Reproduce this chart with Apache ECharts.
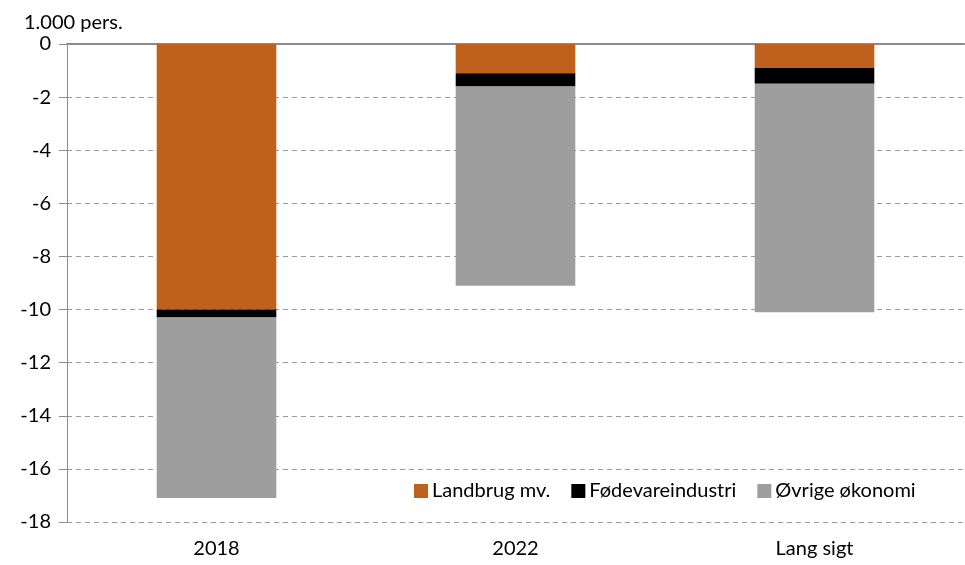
<!DOCTYPE html>
<html>
<head>
<meta charset="utf-8">
<title>Beskæftigelse</title>
<script src="https://cdn.jsdelivr.net/npm/echarts@6/dist/echarts.min.js"></script>
<style>
  html, body { margin: 0; padding: 0; background: #fff; }
  #chart { width: 965px; height: 565px; }
</style>
</head>
<body>
<div id="chart"></div>
<script>
// data (1.000 pers.)
var categories = ['2018', '2022', 'Lang sigt']
var landbrug = [-10.0, -1.1, -0.9]
var foedevare = [-0.3, -0.5, -0.6]
var oevrige = [-6.8, -7.5, -8.6]
var seriesNames = ['Landbrug mv.', 'Fødevareindustri', 'Øvrige økonomi']

var font = 'Lato'

function bar(name, data, color) {
    return {
        name: name,
        type: 'bar',
        stack: 'total',
        data: data,
        barWidth: '40%',
        itemStyle: { color: color },
        emphasis: { disabled: true }
    }
}

var chart = echarts.init(document.getElementById('chart'))
chart.setOption({
    animation: false,
    textStyle: { fontFamily: font },
    title: {
        text: '1.000 pers.',
        left: 19,
        top: 8,
        textStyle: { fontFamily: font, fontSize: 20, fontWeight: 'normal', color: '#000' }
    },
    legend: {
        data: seriesNames,
        left: 409,
        top: 476,
        itemWidth: 14,
        itemHeight: 14,
        itemGap: 21,
        icon: 'rect',
        textStyle: { fontFamily: font, fontSize: 20, color: '#000', padding: [0, 0, 0, -1] }
    },
    grid: { left: 67, right: 1, top: 44, bottom: 43 },
    xAxis: [
        {
            type: 'category',
            data: categories,
            position: 'bottom',
            axisLine: { show: false, onZero: false },
            axisTick: { show: false },
            axisLabel: { fontFamily: font, fontSize: 20, color: '#000', margin: 17 }
        },
        {
            // solid zero line along the top
            type: 'category',
            data: categories,
            position: 'top',
            axisLine: { show: true, onZero: false, lineStyle: { color: '#8c8c8c', width: 2 } },
            axisTick: { show: false },
            axisLabel: { show: false }
        }
    ],
    yAxis: {
        type: 'value',
        min: -18,
        max: 0,
        interval: 2,
        axisLine: { show: true, lineStyle: { color: '#8c8c8c', width: 1 } },
        axisTick: { show: true, length: 8, lineStyle: { color: '#8c8c8c' } },
        axisLabel: { fontFamily: font, fontSize: 20, color: '#000', margin: 16 },
        splitLine: { show: true, lineStyle: { color: '#999', type: [5, 4], width: 1 } }
    },
    series: [
        bar(seriesNames[0], landbrug, '#c0601d'),
        bar(seriesNames[1], foedevare, '#000000'),
        bar(seriesNames[2], oevrige, '#9e9e9e')
    ]
})
</script>
</body>
</html>
